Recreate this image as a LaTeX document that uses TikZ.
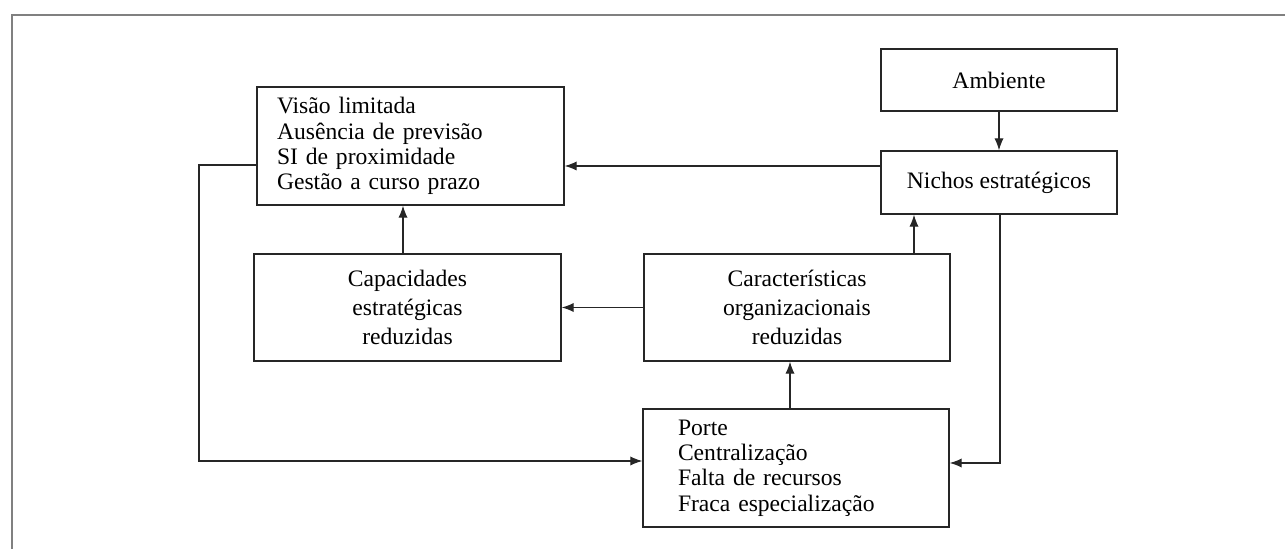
\documentclass[tikz,border=0pt]{standalone}
\usepackage{fontspec}
\setmainfont{Liberation Serif}
\usetikzlibrary{arrows.meta, positioning, calc}

\tikzset{
  blk/.style={draw=black!85, line width=0.65pt, inner sep=0pt, font=\fontsize{11.8}{14.6}\selectfont, align=center},
  lst/.style={blk, align=left, font=\fontsize{11.8}{12.6}\selectfont},
  lnk/.style={-{Latex[length=6pt, width=4.6pt]}, line width=0.6pt, draw=black!85}
}

\begin{document}
\begin{tikzpicture}[x=0.5pt, y=-0.5pt]
    \useasboundingbox (0,0) rectangle (1285,549);
    \draw[gray, line width=1.1pt] (12,549) -- (12,15) -- (1285,15);

    % boxes
    \node[blk, minimum width=118pt, minimum height=31pt] (amb) at (999,80) {Ambiente};
    \node[blk, minimum width=118pt, minimum height=31.5pt] (nichos) at (999,182.5) {Nichos estratégicos};
    \node[lst, text width=133.5pt, inner xsep=10pt, minimum height=59pt] (visao) at (410.5,146)
        {Visão limitada\\Ausência de previsão\\SI de proximidade\\Gestão a curso prazo};
    \node[blk, minimum width=153.5pt, minimum height=53.5pt] (cap) at (407.5,307.5)
        {Capacidades\\estratégicas\\reduzidas};
    \node[blk, minimum width=153pt, minimum height=53.5pt] (carac) at (797,307.5)
        {Características\\organizacionais\\reduzidas};
    \node[lst, text width=118pt, inner xsep=17.5pt, minimum height=59pt] (porte) at (796,468)
        {Porte\\Centralização\\Falta de recursos\\Fraca especialização};

    % links
    \draw[lnk] (amb) -- (nichos);
    \draw[lnk] (nichos.west |- 0,166) -- (visao.east |- 0,166);
    \draw[lnk] (cap.north -| 403,0) -- (visao.south -| 403,0);
    \draw[lnk] (carac) -- (cap);
    \draw[lnk] (carac.north -| 914,0) -- (nichos.south -| 914,0);
    \draw[lnk] (porte.north -| 790,0) -- (carac.south -| 790,0);
    \draw[lnk] (visao.west |- 0,165) -| (199,461) -- (porte.west |- 0,461);
    \draw[lnk] (nichos.south -| 1000,0) |- (porte.east |- 0,463);
\end{tikzpicture}
\end{document}
